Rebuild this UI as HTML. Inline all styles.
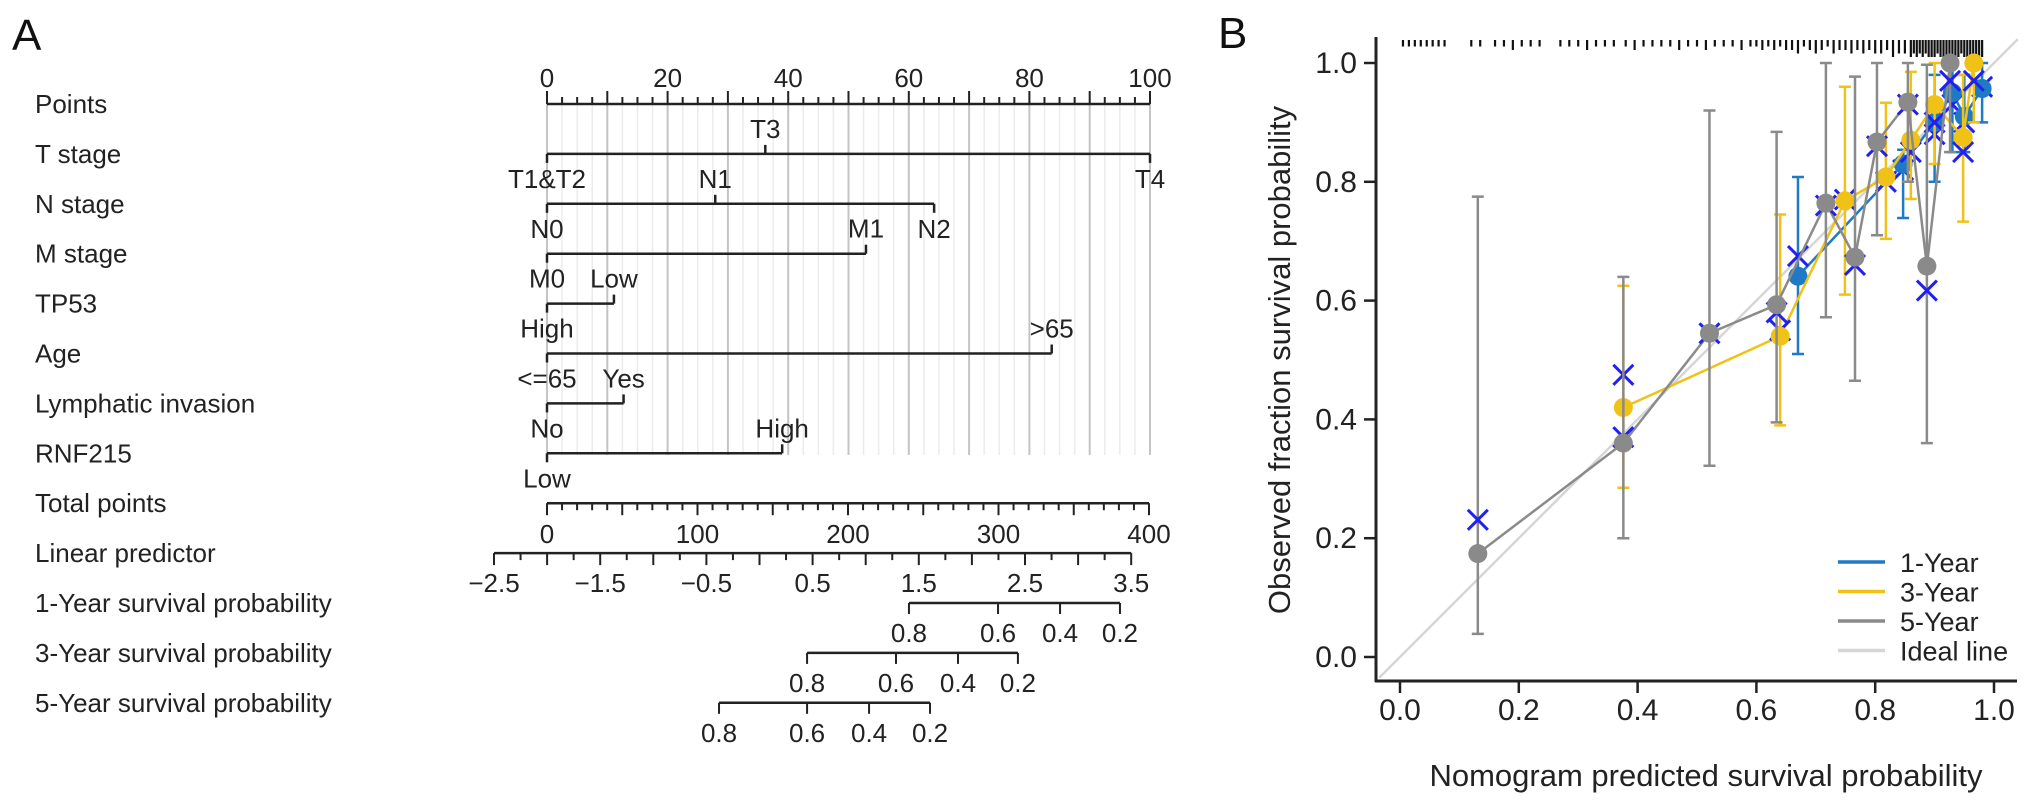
<!DOCTYPE html>
<html><head><meta charset="utf-8"><style>
html,body{margin:0;padding:0;background:#fff;}
svg{display:block;font-family:"Liberation Sans",Arial,sans-serif;}
</style></head><body>
<svg id="fig" width="2032" height="800" viewBox="0 0 2032 800" xmlns="http://www.w3.org/2000/svg">
<text x="12" y="50" font-size="44" fill="#111">A</text>
<text x="1218" y="48" font-size="44" fill="#111">B</text>
<g id="nomo"></g>
<g id="calib"></g>
</svg>
<script>
// ---------- Nomogram data ----------
const rowNames = ["Points","T stage","N stage","M stage","TP53","Age","Lymphatic invasion","RNF215","Total points","Linear predictor","1-Year survival probability","3-Year survival probability","5-Year survival probability"];
const varLevels = [["T1&T2","T3","T4"],["N0","N1","N2"],["M0","M1"],["High","Low"],["<=65",">65"],["No","Yes"],["Low","High"]];
const varPoints = [[0,36.2,100],[0,27.9,64.2],[0,52.9],[0,11.1],[0,83.7],[0,12.7],[0,39]];
const pointTickLabels = [0,20,40,60,80,100];
const totalTickLabels = [0,100,200,300,400];
const lpTickLabels = [-2.5,-1.5,-0.5,0.5,1.5,2.5,3.5];
const survLabels = [0.8,0.6,0.4,0.2];
const surv1yTotal = [240.5,299.7,340.9,380.7];
const surv3yTotal = [172.8,231.9,273.1,312.9];
const surv5yTotal = [114.3,172.8,214.0,254.5];

// ---------- Calibration data ----------
const pred1 = [0.67,0.847,0.90,0.93,0.95,0.98];
const obs1  = [0.641,0.83,0.90,0.95,0.91,0.957];
const corr1 = [0.675,0.82,0.88,0.93,0.90,0.96];
const lo1   = [0.51,0.739,0.80,0.85,0.85,0.90];
const hi1   = [0.808,0.854,0.98,1.0,0.98,1.0];
const pred3 = [0.376,0.64,0.749,0.818,0.86,0.90,0.948,0.966];
const obs3  = [0.42,0.54,0.768,0.808,0.87,0.93,0.875,1.0];
const corr3 = [0.475,0.55,0.77,0.80,0.85,0.90,0.85,0.97];
const lo3   = [0.285,0.39,0.61,0.704,0.771,0.83,0.733,0.90];
const hi3   = [0.625,0.745,0.96,0.933,0.985,1.0,0.98,1.0];
const pred5 = [0.131,0.376,0.521,0.634,0.717,0.766,0.803,0.855,0.887,0.926];
const obs5  = [0.174,0.36,0.545,0.593,0.764,0.673,0.867,0.934,0.658,1.0];
const corr5 = [0.231,0.37,0.545,0.58,0.76,0.66,0.86,0.93,0.617,0.97];
const lo5   = [0.039,0.20,0.322,0.395,0.572,0.465,0.71,0.80,0.36,0.85];
const hi5   = [0.775,0.64,0.92,0.884,1.0,0.977,1.0,1.0,0.997,1.0];
const calTicks = [0,0.2,0.4,0.6,0.8,1.0];
const legendLabels = ["1-Year","3-Year","5-Year","Ideal line"];
const rugVals = [0.005,0.015,0.025,0.035,0.045,0.055,0.065,0.075,0.12,0.135,0.16,0.175,0.19,0.205,0.22,0.235,0.27,0.285,0.30,0.315,0.33,0.345,0.36,0.38,0.395,0.41,0.425,0.44,0.455,0.47,0.485,0.50,0.515,0.53,0.545,0.56,0.575,0.59,0.60,0.61,0.62,0.63,0.64,0.65,0.66,0.67,0.68,0.69,0.70,0.71,0.72,0.73,0.74,0.75,0.76,0.77,0.78,0.79,0.80,0.81,0.82,0.83,0.84,0.85,0.86,0.865,0.87,0.875,0.88,0.885,0.89,0.895,0.90,0.905,0.91,0.915,0.92,0.925,0.93,0.935,0.94,0.945,0.95,0.955,0.96,0.965,0.97,0.975,0.98];
const rugCnt  = [1,1,1,1,1,1,1,1,1,1,1,1,2,1,1,1,1,1,1,2,1,1,1,1,2,1,1,1,1,2,1,1,2,1,1,1,2,1,1,2,1,2,1,2,2,3,1,2,3,2,1,3,2,2,3,2,3,2,3,3,2,4,3,3,4,3,4,3,4,3,4,4,4,3,4,4,4,3,4,4,4,3,4,4,4,4,4,4,4];

const NS="http://www.w3.org/2000/svg";
function mk(parent, tag, attrs, text){
  const e=document.createElementNS(NS,tag);
  for(const k in attrs) e.setAttribute(k,attrs[k]);
  if(text!==undefined) e.textContent=text;
  parent.appendChild(e); return e;
}
const INK="#222";
const FS=26;
const nomo=document.getElementById('nomo');
const rowY = i => 104 + i*49.9;
const ptX = p => 547 + p*6.03;
const totX = t => 547 + t/400*602;
const lpX = v => 494 + (v+2.5)*106.2;

// grid
for(let p=0;p<=100.001;p+=2.5){
  const major = Math.abs(p%10)<0.01 || Math.abs(p%10-10)<0.01;
  const g=mk(nomo,'line',{x1:ptX(p),x2:ptX(p),y1:rowY(0),y2:455,stroke:major?'#c4c4c4':'#ececec','stroke-width':major?2:1.5});
  
  
}
// row labels
rowNames.forEach((n,i)=>{
  const t=mk(nomo,'text',{x:35,y:rowY(i)+9,'font-size':FS,fill:INK},n);
  
  
});
// points axis
mk(nomo,'line',{x1:ptX(0),x2:ptX(100),y1:rowY(0),y2:rowY(0),stroke:INK,'stroke-width':2.5});
for(let p=0;p<=100.001;p+=2.5){
  const major=Math.abs(p%10)<0.01||Math.abs(p%10-10)<0.01;
  mk(nomo,'line',{x1:ptX(p),x2:ptX(p),y1:rowY(0),y2:rowY(0)-(major?13:7),stroke:INK,'stroke-width':2});
}
pointTickLabels.forEach(v=>{
  const t=mk(nomo,'text',{x:ptX(v),y:rowY(0)-17,'font-size':FS,'text-anchor':'middle',fill:INK},String(v));
  
  
});
// variable rows
varPoints.forEach((pts,vi)=>{
  const y=rowY(vi+1);
  const maxP=Math.max(...pts);
  const ln=mk(nomo,'line',{x1:ptX(0),x2:ptX(maxP),y1:y,y2:y,stroke:INK,'stroke-width':2.5});
  
  
  pts.forEach((p,li)=>{
    const above = li%2===1;
    mk(nomo,'line',{x1:ptX(p),x2:ptX(p),y1:y,y2:above?y-9:y+9,stroke:INK,'stroke-width':2.5});
    const t=mk(nomo,'text',{x:ptX(p),y:above?y-16:y+34,'font-size':FS,'text-anchor':'middle',fill:INK},varLevels[vi][li]);
    
    
  });
});
// total points axis
{
  const y=rowY(8);
  mk(nomo,'line',{x1:totX(0),x2:totX(400),y1:y,y2:y,stroke:INK,'stroke-width':2.5});
  for(let t=0;t<=400;t+=10){
    const major=t%50===0;
    mk(nomo,'line',{x1:totX(t),x2:totX(t),y1:y,y2:y+(major?12:7),stroke:INK,'stroke-width':2});
  }
  totalTickLabels.forEach(v=>{
    const t=mk(nomo,'text',{x:totX(v),y:y+40,'font-size':FS,'text-anchor':'middle',fill:INK},String(v));
    
    
  });
}
// linear predictor
{
  const y=rowY(9);
  mk(nomo,'line',{x1:lpX(-2.5),x2:lpX(3.5),y1:y,y2:y,stroke:INK,'stroke-width':2.5});
  for(let k=0;k<=24;k++){
    const v=-2.5+k*0.25;
    const major=k%2===0;
    mk(nomo,'line',{x1:lpX(v),x2:lpX(v),y1:y,y2:y+(major?12:7),stroke:INK,'stroke-width':2});
  }
  lpTickLabels.forEach(v=>{
    const t=mk(nomo,'text',{x:lpX(v),y:y+39,'font-size':FS,'text-anchor':'middle',fill:INK},(v<0?'\u2212':'')+Math.abs(v).toFixed(1));
    
    
  });
}
// survival scales
[surv1yTotal,surv3yTotal,surv5yTotal].forEach((arr,si)=>{
  const y=rowY(10+si);
  const g=mk(nomo,'line',{x1:totX(Math.min(...arr)),x2:totX(Math.max(...arr)),y1:y,y2:y,stroke:INK,'stroke-width':2.5});
  
  
  arr.forEach((t,i)=>{
    mk(nomo,'line',{x1:totX(t),x2:totX(t),y1:y,y2:y+11,stroke:INK,'stroke-width':2});
    const tx=mk(nomo,'text',{x:totX(t),y:y+39,'font-size':FS,'text-anchor':'middle',fill:INK},survLabels[i].toFixed(1));
    
    
  });
});

// ---------- Calibration plot ----------
const cal=document.getElementById('calib');
const cx = v => 1400 + v*594;
const cy = v => 657 - v*594;
// ideal line
{
  const l=mk(cal,'line',{x1:cx(-0.035),y1:cy(-0.035),x2:cx(1.04),y2:cy(1.04),stroke:'#d6d6d6','stroke-width':2.5});
  
  
}
// rug
rugVals.forEach((v,i)=>{
  const r=mk(cal,'line',{x1:cx(v),x2:cx(v),y1:40,y2:40+3+rugCnt[i]*3.5,stroke:'#111','stroke-width':2.2});
  
  
});
// axes
mk(cal,'line',{x1:1376,x2:1376,y1:37,y2:682,stroke:INK,'stroke-width':3});
mk(cal,'line',{x1:1375,x2:2017,y1:681,y2:681,stroke:INK,'stroke-width':3});
calTicks.forEach(v=>{
  mk(cal,'line',{x1:1364,x2:1376,y1:cy(v),y2:cy(v),stroke:INK,'stroke-width':2.5});
  const t=mk(cal,'text',{x:1357,y:cy(v)+10,'font-size':30,'text-anchor':'end',fill:INK},v.toFixed(1));
  
  
  mk(cal,'line',{x1:cx(v),x2:cx(v),y1:681,y2:693,stroke:INK,'stroke-width':2.5});
  const t2=mk(cal,'text',{x:cx(v),y:720,'font-size':30,'text-anchor':'middle',fill:INK},v.toFixed(1));
  
  
});
{
  const t=mk(cal,'text',{x:1706,y:786,'font-size':31,'text-anchor':'middle',fill:INK},'Nomogram predicted survival probability');
  
  
  const t2=mk(cal,'text',{x:0,y:0,'font-size':31,'text-anchor':'middle',fill:INK,transform:'translate(1290,360) rotate(-90)'},'Observed fraction survival probability');
  
  
}
const seriesList=[
  {p:pred1,o:obs1,c:corr1,lo:lo1,hi:hi1,col:'#1f7ac6',name:'series-1-year'},
  {p:pred3,o:obs3,c:corr3,lo:lo3,hi:hi3,col:'#f0c218',name:'series-3-year'},
  {p:pred5,o:obs5,c:corr5,lo:lo5,hi:hi5,col:'#8a8a8a',name:'series-5-year'}
];
seriesList.forEach(s=>{
  const g=mk(cal,'g',{});
  
  
  s.p.forEach((x,i)=>{
    const e=mk(g,'path',{d:`M${cx(x)},${cy(s.lo[i])}V${cy(s.hi[i])}M${cx(x)-6},${cy(s.lo[i])}H${cx(x)+6}M${cx(x)-6},${cy(s.hi[i])}H${cx(x)+6}`,stroke:s.col,'stroke-width':2.5,fill:'none'});
    
    
  });
  const d=s.p.map((x,i)=>(i?'L':'M')+cx(x)+','+cy(s.o[i])).join('');
  const pl=mk(g,'path',{d:d,stroke:s.col,'stroke-width':2.5,fill:'none'});
  
  
  s.p.forEach((x,i)=>{
    const X=cx(x),Y=cy(s.c[i]),k=10;
    const m=mk(g,'path',{d:`M${X-k},${Y-k}L${X+k},${Y+k}M${X-k},${Y+k}L${X+k},${Y-k}`,stroke:'#2020f0','stroke-width':3,fill:'none'});
    
    
  });
  s.p.forEach((x,i)=>{
    const c=mk(g,'circle',{cx:cx(x),cy:cy(s.o[i]),r:9.5,fill:s.col});
    
    
  });
});
// legend
const legCols=['#1f7ac6','#f0c218','#8a8a8a','#d6d6d6'];
legendLabels.forEach((lab,i)=>{
  const y=562+i*29.5;
  const l=mk(cal,'line',{x1:1838,x2:1885,y1:y,y2:y,stroke:legCols[i],'stroke-width':3.5});
  
  
  const t=mk(cal,'text',{x:1900,y:y+10,'font-size':27,fill:INK},lab);
  
  
});
</script>
</body></html>
